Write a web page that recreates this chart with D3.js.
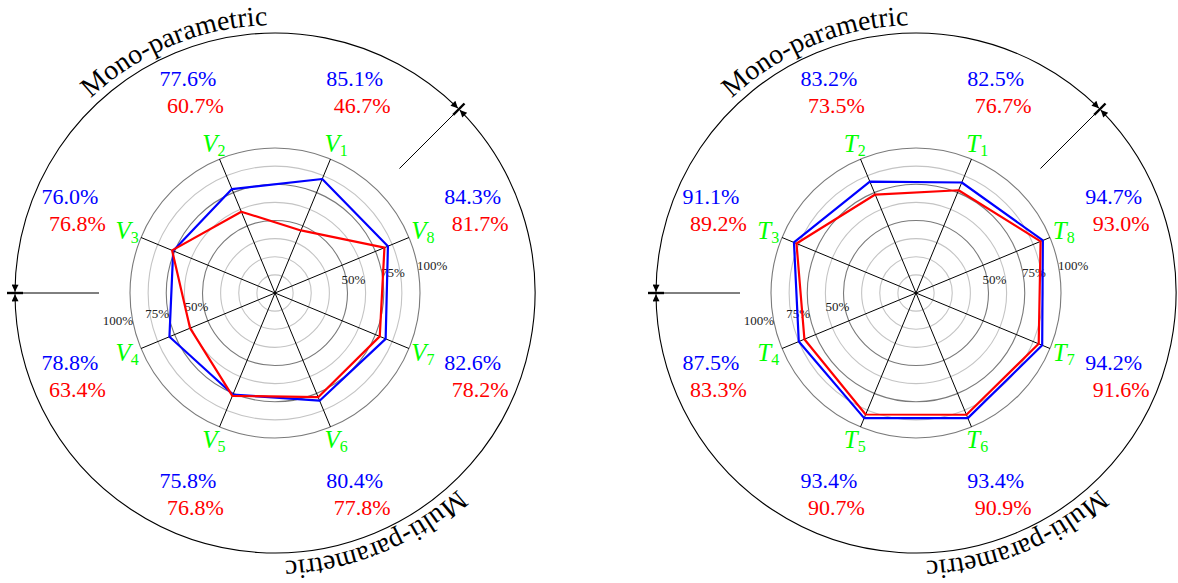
<!DOCTYPE html>
<html lang="en">
<head>
  <meta charset="UTF-8">
  <title>radar</title>
  <style>
    body { margin: 0; background: #fff; }
    svg text { font-family: "Liberation Serif", "DejaVu Serif", serif; }
  </style>
</head>
<body>
  <script src="https://cdn.jsdelivr.net/npm/d3@7/dist/d3.min.js"></script>
  <script>
    // values, axis 1..8
    let vBlue = [85.1, 77.6, 76.0, 78.8, 75.8, 80.4, 82.6, 84.3];
    let vRed  = [46.7, 60.7, 76.8, 63.4, 76.8, 77.8, 78.2, 81.7];
    let tBlue = [82.5, 83.2, 91.1, 87.5, 93.4, 93.4, 94.2, 94.7];
    let tRed  = [76.7, 73.5, 89.2, 83.3, 90.7, 90.9, 91.6, 93.0];
    let axisIds = ["1", "2", "3", "4", "5", "6", "7", "8"];
    let rings = [12.5, 25, 37.5, 50, 62.5, 75, 87.5, 100];
    let ringLabels = [50, 75, 100];
    let arcTitles = ["Mono-parametric", "Multi-parametric"];

    let width = 1178,
      height = 583;
    let R = 260;
    let serif = "'Liberation Serif', 'DejaVu Serif', serif";

    let svg = d3.select("body")
      .append("svg")
      .attr("width", width)
      .attr("height", height)
      .attr("font-family", serif);

    // arrow head
    svg.append("defs").append("marker")
      .attr("id", "arr")
      .attr("viewBox", "0 0 10 10")
      .attr("refX", 10)
      .attr("refY", 5)
      .attr("markerUnits", "userSpaceOnUse")
      .attr("markerWidth", 9)
      .attr("markerHeight", 7)
      .attr("orient", "auto-start-reverse")
      .append("path")
      .attr("d", "M0,0 L10,5 L0,10 z")
      .attr("fill", "#000");

    let r = d3.scaleLinear().domain([0, 100]).range([0, 145]);
    // radial angle, clockwise from north; axis 1 at 22.5deg, going counter-clockwise
    let ang = d3.scaleLinear().domain([0, 8]).range([Math.PI / 8, Math.PI / 8 - 2 * Math.PI]);

    // point on a circle with math angle in degrees
    function pt(deg, rad) {
      let a = deg * Math.PI / 180;
      return [rad * Math.cos(a), -rad * Math.sin(a)];
    }

    function radar(cx, letter, blue, red, key) {
      let g = svg.append("g").attr("transform", "translate(" + cx + ",293)");

      // rings
      g.selectAll("circle.ring")
        .data(rings)
        .enter()
        .append("circle")
        .attr("r", d => r(d))
        .attr("fill", "none")
        .attr("stroke", d => ringLabels.indexOf(d) >= 0 ? "#7a7a7a" : "#c4c4c4")
        .attr("stroke-width", 1.1);

      // spokes
      g.selectAll("line.spoke")
        .data(axisIds)
        .enter()
        .append("line")
        .attr("x1", 0).attr("y1", 0)
        .attr("x2", (d, i) => Math.sin(ang(i)) * r(100))
        .attr("y2", (d, i) => -Math.cos(ang(i)) * r(100))
        .attr("stroke", "#000")
        .attr("stroke-width", 1);

      // ring labels, both sides
      [10, 190].forEach(a => {
        g.selectAll(null)
          .data(ringLabels)
          .enter()
          .append("text")
          .attr("x", d => pt(a, r(d) * 1.1)[0])
          .attr("y", d => pt(a, r(d) * 1.1)[1])
          .attr("text-anchor", "middle")
          .attr("dominant-baseline", "central")
          .attr("font-size", 13)
          .attr("fill", "#222")
          .text(d => d + "%");
      });

      let line = d3.lineRadial()
        .angle((d, i) => ang(i))
        .radius(d => r(d))
        .curve(d3.curveLinearClosed);

      g.append("path").attr("d", line(blue))
        .attr("fill", "none").attr("stroke", "#0000ff").attr("stroke-width", 2.2)
        .attr("stroke-linejoin", "round");
      g.append("path").attr("d", line(red))
        .attr("fill", "none").attr("stroke", "#ff0000").attr("stroke-width", 2.2)
        .attr("stroke-linejoin", "round");

      // axis names
      let lab = g.selectAll("text.ax")
        .data(axisIds)
        .enter()
        .append("text")
        .attr("x", (d, i) => Math.sin(ang(i)) * 160)
        .attr("y", (d, i) => -Math.cos(ang(i)) * 160 + 7)
        .attr("text-anchor", "middle")
        .attr("fill", "#00ff00");
      lab.append("tspan").attr("font-style", "italic").attr("font-size", 25).text(letter);
      lab.append("tspan").attr("font-size", 16).attr("dy", 4).text(d => d);

      // value pairs
      let pr = 218;
      g.selectAll("text.vb")
        .data(blue)
        .enter()
        .append("text")
        .attr("x", (d, i) => Math.sin(ang(i)) * pr - 3.75)
        .attr("y", (d, i) => -Math.cos(ang(i)) * pr - 6)
        .attr("text-anchor", "middle")
        .attr("font-size", 22)
        .attr("fill", "#0000ff")
        .text(d => d.toFixed(1) + "%");
      g.selectAll("text.vr")
        .data(red)
        .enter()
        .append("text")
        .attr("x", (d, i) => Math.sin(ang(i)) * pr + 3.75)
        .attr("y", (d, i) => -Math.cos(ang(i)) * pr + 21)
        .attr("text-anchor", "middle")
        .attr("font-size", 22)
        .attr("fill", "#ff0000")
        .text(d => d.toFixed(1) + "%");

      // outer arcs with arrows
      let dl = 0.3;
      let a0 = pt(180 - dl, R), a1 = pt(45 + dl, R);
      g.append("path")
        .attr("d", "M" + a0 + " A" + R + "," + R + " 0 0 1 " + a1)
        .attr("fill", "none").attr("stroke", "#000").attr("stroke-width", 1.1)
        .attr("marker-start", "url(#arr)").attr("marker-end", "url(#arr)");
      let b0 = pt(45 - dl, R), b1 = pt(-180 + dl, R);
      g.append("path")
        .attr("d", "M" + b0 + " A" + R + "," + R + " 0 1 1 " + b1)
        .attr("fill", "none").attr("stroke", "#000").attr("stroke-width", 1.1)
        .attr("marker-start", "url(#arr)").attr("marker-end", "url(#arr)");

      // separators
      [45, 180].forEach(a => {
        let p0 = pt(a, 176), p1 = pt(a, 262);
        g.append("line")
          .attr("x1", p0[0]).attr("y1", p0[1]).attr("x2", p1[0]).attr("y2", p1[1])
          .attr("stroke", "#000").attr("stroke-width", 1);
        let q0 = pt(a, 252), q1 = pt(a, 268);
        g.append("line")
          .attr("x1", q0[0]).attr("y1", q0[1]).attr("x2", q1[0]).attr("y2", q1[1])
          .attr("stroke", "#000").attr("stroke-width", 2.4);
      });

      // curved titles
      let T = 268;
      let t0 = pt(180, T), t1 = pt(45, T);
      g.append("path").attr("id", "top" + key).attr("fill", "none")
        .attr("d", "M" + t0 + " A" + T + "," + T + " 0 0 1 " + t1);
      let u0 = pt(45, T), u1 = pt(-180, T);
      g.append("path").attr("id", "bot" + key).attr("fill", "none")
        .attr("d", "M" + u0 + " A" + T + "," + T + " 0 1 1 " + u1);

      [["top", arcTitles[0]], ["bot", arcTitles[1]]].forEach(p => {
        g.append("text")
          .attr("font-size", 28)
          .attr("fill", "#000")
          .append("textPath")
          .attr("href", "#" + p[0] + key)
          .attr("startOffset", "50%")
          .attr("text-anchor", "middle")
          .text(p[1]);
      });
    }

    radar(275, "V", vBlue, vRed, "L");
    radar(916, "T", tBlue, tRed, "R");
  </script>
</body>
</html>
